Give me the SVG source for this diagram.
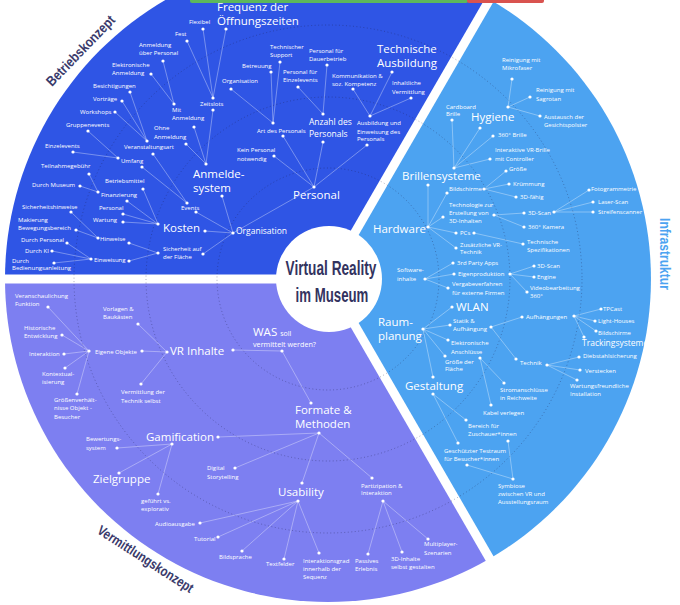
<svg xmlns="http://www.w3.org/2000/svg" width="680" height="605" viewBox="0 0 680 605">
<style>
text{font-family:"Open Sans","Noto Sans","DejaVu Sans",sans-serif;fill:#fff}
.s{font-size:6px}
.m{font-size:8.5px}
.l{font-size:11.5px}
.sec{font-family:"Liberation Sans",Arial,sans-serif;font-weight:bold;font-size:14px;fill:#3a3a6b}
.ctr{font-family:"Liberation Sans",Arial,sans-serif;font-weight:bold;font-size:21px;fill:#33335f}
.d{fill:#fff}
#connectors line{stroke:#fff;stroke-opacity:.58;stroke-width:.6}
.ring{fill:none;stroke:#20204a;stroke-opacity:.45;stroke-width:.8;stroke-dasharray:1 2.5}
</style>
<rect width="680" height="605" fill="#fff"/>
<g id="sectors">
<path d="M328,279 L5,279 A323,323 0 0 1 489.5,-0.7 Z" fill="#2f55e5"/>
<path d="M328,279 L489.5,-0.7 A323,323 0 0 1 489.5,558.7 Z" fill="#4ca3f1"/>
<path d="M328,279 L489.5,558.7 A323,323 0 0 1 5,279 Z" fill="#7d7ff1"/>
<g stroke="#fff" stroke-width="9">
<line x1="328" y1="279" x2="0" y2="279"/>
<line x1="328" y1="279" x2="498" y2="-15"/>
<line x1="328" y1="279" x2="498" y2="573"/>
</g>
<circle class="ring" cx="328" cy="279" r="111"/>
<circle class="ring" cx="328" cy="279" r="182"/>
<circle class="ring" cx="328" cy="279" r="254"/>
</g>
<rect x="190" y="-2" width="278" height="5" rx="2" fill="#5cb85c"/>
<rect x="467" y="-2" width="77" height="5" rx="2" fill="#d9534f"/>
<g id="connectors">
<line x1="213" y1="98" x2="203" y2="29"/><line x1="213" y1="98" x2="187" y2="41"/><line x1="213" y1="98" x2="226" y2="29"/>
<line x1="213" y1="110" x2="206" y2="164"/><line x1="174" y1="104" x2="163" y2="61"/><line x1="174" y1="104" x2="151" y2="74"/>
<line x1="194" y1="127" x2="206" y2="164"/><line x1="186" y1="144" x2="206" y2="164"/>
<line x1="147" y1="141" x2="130" y2="92"/><line x1="147" y1="141" x2="122" y2="101"/><line x1="147" y1="141" x2="115" y2="112"/>
<line x1="118" y1="158" x2="88" y2="131"/><line x1="118" y1="158" x2="73" y2="152"/>
<line x1="153" y1="154" x2="187" y2="203"/><line x1="142" y1="167" x2="187" y2="203"/>
<line x1="196" y1="212" x2="233" y2="233"/><line x1="222" y1="196" x2="233" y2="233"/>
<line x1="98" y1="192" x2="89" y2="174"/><line x1="98" y1="192" x2="80" y2="186"/>
<line x1="127" y1="201" x2="158" y2="224"/><line x1="143" y1="189" x2="158" y2="224"/><line x1="123" y1="214" x2="158" y2="224"/><line x1="123" y1="222" x2="158" y2="224"/>
<line x1="205" y1="231" x2="233" y2="233"/>
<line x1="98" y1="238" x2="71" y2="212"/><line x1="98" y1="238" x2="76" y2="230"/><line x1="129" y1="243" x2="158" y2="253"/>
<line x1="91" y1="259" x2="67" y2="243"/><line x1="91" y1="259" x2="52" y2="251"/><line x1="91" y1="259" x2="54" y2="263"/>
<line x1="129" y1="261" x2="158" y2="253"/><line x1="203" y1="254" x2="233" y2="233"/><line x1="233" y1="233" x2="314" y2="187"/>
<line x1="273" y1="123" x2="231" y2="89"/><line x1="273" y1="123" x2="271" y2="72"/><line x1="273" y1="123" x2="280" y2="62"/>
<line x1="323" y1="114" x2="298" y2="87"/><line x1="323" y1="114" x2="327" y2="65"/>
<line x1="370" y1="116" x2="353" y2="89"/><line x1="370" y1="116" x2="392" y2="72"/><line x1="370" y1="116" x2="411" y2="98"/>
<line x1="314" y1="187" x2="274" y2="156"/><line x1="314" y1="187" x2="283" y2="136"/><line x1="314" y1="187" x2="323" y2="142"/><line x1="314" y1="187" x2="367" y2="145"/>
<line x1="508" y1="107" x2="512" y2="79"/><line x1="508" y1="107" x2="530" y2="97"/><line x1="508" y1="107" x2="540" y2="116"/>
<line x1="480" y1="128" x2="454" y2="168"/><line x1="454" y1="168" x2="452" y2="120"/><line x1="454" y1="168" x2="493" y2="136"/><line x1="454" y1="168" x2="490" y2="159"/>
<line x1="428" y1="185" x2="428" y2="227"/><line x1="447" y1="193" x2="428" y2="227"/><line x1="443" y1="217" x2="428" y2="227"/><line x1="456" y1="233" x2="428" y2="227"/><line x1="456" y1="248" x2="428" y2="227"/>
<line x1="484" y1="189" x2="506" y2="171"/><line x1="484" y1="189" x2="509" y2="184"/><line x1="484" y1="189" x2="516" y2="197"/>
<line x1="494" y1="215" x2="524" y2="213"/><line x1="494" y1="215" x2="524" y2="227"/>
<line x1="554" y1="212" x2="589" y2="190"/><line x1="554" y1="212" x2="593" y2="202"/><line x1="554" y1="212" x2="593" y2="212"/>
<line x1="474" y1="233" x2="523" y2="244"/>
<line x1="425" y1="279" x2="453" y2="263"/><line x1="425" y1="279" x2="454" y2="274"/><line x1="425" y1="279" x2="448" y2="288"/>
<line x1="510" y1="274" x2="534" y2="266"/><line x1="510" y1="274" x2="534" y2="277"/><line x1="510" y1="274" x2="527" y2="292"/>
<line x1="423" y1="329" x2="452" y2="307"/><line x1="423" y1="329" x2="450" y2="325"/><line x1="423" y1="329" x2="448" y2="340"/><line x1="423" y1="329" x2="445" y2="356"/><line x1="423" y1="329" x2="433" y2="377"/>
<line x1="491" y1="327" x2="522" y2="317"/><line x1="491" y1="327" x2="516" y2="359"/>
<line x1="574" y1="316" x2="601" y2="309"/><line x1="574" y1="316" x2="595" y2="321"/><line x1="574" y1="316" x2="596" y2="331"/><line x1="574" y1="316" x2="584" y2="337"/>
<line x1="547" y1="365" x2="579" y2="357"/><line x1="547" y1="365" x2="580" y2="370"/><line x1="547" y1="365" x2="577" y2="380"/>
<line x1="480" y1="358" x2="504" y2="383"/><line x1="480" y1="358" x2="491" y2="405"/>
<line x1="433" y1="394" x2="466" y2="420"/><line x1="433" y1="394" x2="458" y2="443"/>
<line x1="508" y1="441" x2="513" y2="479"/><line x1="467" y1="465" x2="513" y2="479"/>
<line x1="89" y1="351" x2="48" y2="307"/><line x1="89" y1="351" x2="62" y2="335"/><line x1="89" y1="351" x2="64" y2="354"/><line x1="89" y1="351" x2="65" y2="368"/><line x1="89" y1="351" x2="77" y2="394"/>
<line x1="142" y1="351" x2="167" y2="352"/><line x1="167" y1="352" x2="138" y2="324"/><line x1="167" y1="352" x2="141" y2="384"/>
<line x1="233" y1="350" x2="282" y2="351"/><line x1="282" y1="351" x2="311" y2="403"/>
<line x1="319" y1="433" x2="218" y2="437"/><line x1="319" y1="433" x2="235" y2="468"/><line x1="319" y1="433" x2="302" y2="483"/><line x1="319" y1="433" x2="372" y2="478"/>
<line x1="172" y1="444" x2="117" y2="448"/><line x1="172" y1="444" x2="119" y2="473"/><line x1="172" y1="444" x2="158" y2="494"/>
<line x1="298" y1="501" x2="200" y2="523"/><line x1="298" y1="501" x2="218" y2="537"/><line x1="298" y1="501" x2="242" y2="551"/><line x1="298" y1="501" x2="284" y2="559"/><line x1="298" y1="501" x2="319" y2="553"/>
<line x1="383" y1="501" x2="368" y2="554"/><line x1="383" y1="501" x2="402" y2="552"/><line x1="383" y1="501" x2="428" y2="539"/>
</g>
<!-- Betriebskonzept -->
<g id="n-oeffnungszeiten"><circle class="d" cx="226" cy="29" r="1.6"/><text class="l" font-size="10.5" x="217" y="11.3">Frequenz der</text><text class="l" font-size="10.5" x="217" y="24.8">Öffnungszeiten</text></g>
<g id="n-flexibel"><circle class="d" cx="203" cy="29" r="1.6"/><text class="s" x="189" y="24">Flexibel</text></g>
<g id="n-fest"><circle class="d" cx="187" cy="41" r="1.6"/><text class="s" x="175" y="36">Fest</text></g>
<g id="n-zeitslots"><circle class="d" cx="213" cy="98" r="1.6"/><circle class="d" cx="213" cy="110" r="1.6"/><text class="s" x="200" y="106">Zeitslots</text></g>
<g id="n-anm-personal"><circle class="d" cx="163" cy="61" r="1.6"/><text class="s" x="139" y="47">Anmeldung</text><text class="s" x="139" y="55">über Personal</text></g>
<g id="n-elektr-anm"><circle class="d" cx="151" cy="74" r="1.6"/><text class="s" x="112" y="67">Elektronische</text><text class="s" x="112" y="75">Anmeldung</text></g>
<g id="n-mit-anm"><circle class="d" cx="174" cy="104" r="1.6"/><circle class="d" cx="194" cy="127" r="1.6"/><text class="s" x="172" y="112">Mit</text><text class="s" x="172" y="120">Anmeldung</text></g>
<g id="n-ohne-anm"><circle class="d" cx="186" cy="144" r="1.6"/><text class="s" x="154" y="130">Ohne</text><text class="s" x="154" y="139">Anmeldung</text></g>
<g id="n-anmeldesystem"><circle class="d" cx="206" cy="164" r="1.6"/><circle class="d" cx="222" cy="196" r="1.6"/><text class="l" x="193" y="178">Anmelde-</text><text class="l" x="193" y="192">system</text></g>
<g id="n-besichtigungen"><circle class="d" cx="130" cy="92" r="1.6"/><text class="s" x="93" y="88">Besichtigungen</text></g>
<g id="n-vortraege"><circle class="d" cx="122" cy="101" r="1.6"/><text class="s" x="93" y="101">Vorträge</text></g>
<g id="n-workshops"><circle class="d" cx="115" cy="112" r="1.6"/><text class="s" x="80" y="114">Workshops</text></g>
<g id="n-veranstaltungsart"><circle class="d" cx="147" cy="141" r="1.6"/><circle class="d" cx="153" cy="154" r="1.6"/><text class="s" x="124" y="149">Veranstaltungsart</text></g>
<g id="n-gruppenevents"><circle class="d" cx="88" cy="131" r="1.6"/><text class="s" x="66" y="127">Gruppenevents</text></g>
<g id="n-einzelevents"><circle class="d" cx="73" cy="152" r="1.6"/><text class="s" x="45" y="148">Einzelevents</text></g>
<g id="n-umfang"><circle class="d" cx="118" cy="158" r="1.6"/><circle class="d" cx="142" cy="167" r="1.6"/><text class="s" x="121" y="163">Umfang</text></g>
<g id="n-events"><circle class="d" cx="187" cy="203" r="1.6"/><circle class="d" cx="196" cy="212" r="1.6"/><text class="s" x="181" y="210">Events</text></g>
<g id="n-teilnahmegebuehr"><circle class="d" cx="89" cy="174" r="1.6"/><text class="s" x="41" y="168">Teilnahmegebühr</text></g>
<g id="n-durch-museum"><circle class="d" cx="80" cy="186" r="1.6"/><text class="s" x="32" y="187">Durch Museum</text></g>
<g id="n-finanzierung"><circle class="d" cx="98" cy="192" r="1.6"/><circle class="d" cx="127" cy="201" r="1.6"/><text class="s" x="101" y="197">Finanzierung</text></g>
<g id="n-betriebsmittel"><circle class="d" cx="143" cy="189" r="1.6"/><text class="s" x="105" y="183">Betriebsmittel</text></g>
<g id="n-k-personal"><circle class="d" cx="123" cy="214" r="1.6"/><text class="s" x="99" y="210">Personal</text></g>
<g id="n-wartung"><circle class="d" cx="123" cy="222" r="1.6"/><text class="s" x="93" y="222">Wartung</text></g>
<g id="n-kosten"><circle class="d" cx="158" cy="224" r="1.6"/><circle class="d" cx="205" cy="231" r="1.6"/><text class="l" font-size="12" x="163" y="232">Kosten</text></g>
<g id="n-sicherheitshinweise"><circle class="d" cx="71" cy="212" r="1.6"/><text class="s" x="22" y="209">Sicherheitshinweise</text></g>
<g id="n-makierung"><circle class="d" cx="76" cy="230" r="1.6"/><text class="s" x="18" y="222">Makierung</text><text class="s" x="18" y="230">Bewegungsbereich</text></g>
<g id="n-hinweise"><circle class="d" cx="98" cy="238" r="1.6"/><circle class="d" cx="129" cy="243" r="1.6"/><text class="s" x="100" y="241">Hinweise</text></g>
<g id="n-durch-personal"><circle class="d" cx="67" cy="243" r="1.6"/><text class="s" x="21" y="242">Durch Personal</text></g>
<g id="n-durch-ki"><circle class="d" cx="52" cy="251" r="1.6"/><text class="s" x="25" y="253">Durch KI</text></g>
<g id="n-durch-anleitung"><circle class="d" cx="54" cy="263" r="1.6"/><text class="s" x="12" y="263">Durch</text><text class="s" x="12" y="270">Bedienungsanleitung</text></g>
<g id="n-einweisung"><circle class="d" cx="91" cy="259" r="1.6"/><circle class="d" cx="129" cy="261" r="1.6"/><text class="s" x="94" y="262">Einweisung</text></g>
<g id="n-sicherheit"><circle class="d" cx="158" cy="253" r="1.6"/><circle class="d" cx="203" cy="254" r="1.6"/><text class="s" x="163" y="251">Sicherheit auf</text><text class="s" x="163" y="259">der Fläche</text></g>
<g id="n-organisation"><circle class="d" cx="233" cy="233" r="1.6"/><text class="m" font-size="8" x="236" y="234">Organisation</text></g>
<g id="n-p-organisation"><circle class="d" cx="231" cy="89" r="1.6"/><text class="s" x="222" y="83">Organisation</text></g>
<g id="n-betreuung"><circle class="d" cx="271" cy="72" r="1.6"/><text class="s" x="242" y="68">Betreuung</text></g>
<g id="n-tech-support"><circle class="d" cx="280" cy="62" r="1.6"/><text class="s" x="270" y="49">Technischer</text><text class="s" x="270" y="57">Support</text></g>
<g id="n-art-personal"><circle class="d" cx="273" cy="123" r="1.6"/><circle class="d" cx="283" cy="136" r="1.6"/><text class="s" x="257" y="133">Art des Personals</text></g>
<g id="n-p-dauer"><circle class="d" cx="327" cy="65" r="1.6"/><text class="s" x="309" y="53">Personal für</text><text class="s" x="309" y="61">Dauerbetrieb</text></g>
<g id="n-p-einzel"><circle class="d" cx="298" cy="87" r="1.6"/><text class="s" x="283" y="74">Personal für</text><text class="s" x="283" y="82">Einzelevents</text></g>
<g id="n-anzahl"><circle class="d" cx="323" cy="114" r="1.6"/><circle class="d" cx="323" cy="142" r="1.6"/><text class="m" x="309" y="125">Anzahl des</text><text class="m" x="309" y="137">Personals</text></g>
<g id="n-kommunikation"><circle class="d" cx="353" cy="89" r="1.6"/><text class="s" x="332" y="78">Kommunikation &amp;</text><text class="s" x="332" y="86">soz. Kompetenz</text></g>
<g id="n-tech-ausbildung"><circle class="d" cx="392" cy="72" r="1.6"/><text class="l" x="377" y="53">Technische</text><text class="l" x="377" y="67">Ausbildung</text></g>
<g id="n-inhaltliche"><circle class="d" cx="411" cy="98" r="1.6"/><text class="s" x="392" y="85">Inhaltliche</text><text class="s" x="392" y="94">Vermittlung</text></g>
<g id="n-ausbildung"><circle class="d" cx="370" cy="116" r="1.6"/><circle class="d" cx="367" cy="145" r="1.6"/><text class="s" x="357" y="125">Ausbildung und</text><text class="s" x="357" y="134">Einweisung des</text><text class="s" x="357" y="141">Personals</text></g>
<g id="n-kein-personal"><circle class="d" cx="274" cy="156" r="1.6"/><text class="s" x="237" y="152">Kein Personal</text><text class="s" x="237" y="161">notwendig</text></g>
<g id="n-personal"><circle class="d" cx="314" cy="187" r="1.6"/><text class="l" font-size="12" x="293" y="199">Personal</text></g>
<!-- Infrastruktur -->
<g id="n-mikrofaser"><circle class="d" cx="512" cy="79" r="1.6"/><text class="s" x="502" y="62">Reinigung mit</text><text class="s" x="502" y="70">Mikrofaser</text></g>
<g id="n-sagrotan"><circle class="d" cx="530" cy="97" r="1.6"/><text class="s" x="536" y="92">Reinigung mit</text><text class="s" x="536" y="101">Sagrotan</text></g>
<g id="n-gesichtspolster"><circle class="d" cx="540" cy="116" r="1.6"/><text class="s" x="544" y="119">Austausch der</text><text class="s" x="544" y="127">Gesichtspolster</text></g>
<g id="n-hygiene"><circle class="d" cx="508" cy="107" r="1.6"/><circle class="d" cx="480" cy="128" r="1.6"/><text class="l" x="471" y="121">Hygiene</text></g>
<g id="n-cardboard"><circle class="d" cx="452" cy="120" r="1.6"/><text class="s" x="446" y="109">Cardboard</text><text class="s" x="446" y="116">Brille</text></g>
<g id="n-360-brille"><circle class="d" cx="493" cy="136" r="1.6"/><text class="s" x="498" y="137">360° Brille</text></g>
<g id="n-interaktive"><circle class="d" cx="490" cy="159" r="1.6"/><text class="s" x="495" y="152">Interaktive VR-Brille</text><text class="s" x="495" y="161">mit Controller</text></g>
<g id="n-brillensysteme"><circle class="d" cx="454" cy="168" r="1.6"/><circle class="d" cx="428" cy="185" r="1.6"/><text class="l" x="402" y="180">Brillensysteme</text></g>
<g id="n-groesse"><circle class="d" cx="506" cy="171" r="1.6"/><text class="s" x="509" y="171">Größe</text></g>
<g id="n-kruemmung"><circle class="d" cx="509" cy="184" r="1.6"/><text class="s" x="513" y="186">Krümmung</text></g>
<g id="n-3d-faehig"><circle class="d" cx="516" cy="197" r="1.6"/><text class="s" x="520" y="199">3D-fähig</text></g>
<g id="n-bildschirme"><circle class="d" cx="447" cy="193" r="1.6"/><circle class="d" cx="484" cy="189" r="1.6"/><text class="s" x="449" y="191">Bildschirme</text></g>
<g id="n-technologie"><circle class="d" cx="443" cy="217" r="1.6"/><circle class="d" cx="494" cy="215" r="1.6"/><text class="s" x="449" y="207">Technologie zur</text><text class="s" x="449" y="215">Erstellung von</text><text class="s" x="449" y="223">3D-Inhalten</text></g>
<g id="n-hardware"><circle class="d" cx="428" cy="227" r="1.6"/><text class="l" x="373" y="233">Hardware</text></g>
<g id="n-3d-scan"><circle class="d" cx="524" cy="213" r="1.6"/><circle class="d" cx="554" cy="212" r="1.6"/><text class="s" x="528" y="215">3D-Scan</text></g>
<g id="n-360-kamera"><circle class="d" cx="524" cy="227" r="1.6"/><text class="s" x="528" y="229">360° Kamera</text></g>
<g id="n-fotogrammetrie"><circle class="d" cx="589" cy="190" r="1.6"/><text class="s" x="591" y="191">Fotogrammetrie</text></g>
<g id="n-laser-scan"><circle class="d" cx="593" cy="202" r="1.6"/><text class="s" x="598" y="204">Laser-Scan</text></g>
<g id="n-streifenscanner"><circle class="d" cx="593" cy="212" r="1.6"/><text class="s" x="598" y="214">Streifenscanner</text></g>
<g id="n-pcs"><circle class="d" cx="456" cy="233" r="1.6"/><circle class="d" cx="474" cy="233" r="1.6"/><text class="s" x="460" y="235">PCs</text></g>
<g id="n-tech-spez"><circle class="d" cx="523" cy="244" r="1.6"/><text class="s" x="527" y="244">Technische</text><text class="s" x="527" y="252">Spezifikationen</text></g>
<g id="n-zusaetzliche"><circle class="d" cx="456" cy="248" r="1.6"/><text class="s" x="460" y="247">Zusätzliche VR-</text><text class="s" x="460" y="254">Technik</text></g>
<g id="n-software"><circle class="d" cx="425" cy="279" r="1.6"/><text class="s" x="397" y="272">Software-</text><text class="s" x="397" y="281">inhalte</text></g>
<g id="n-3rd-party"><circle class="d" cx="453" cy="263" r="1.6"/><text class="s" x="457" y="265">3rd Party Apps</text></g>
<g id="n-eigenproduktion"><circle class="d" cx="454" cy="274" r="1.6"/><circle class="d" cx="510" cy="274" r="1.6"/><text class="s" x="458" y="276">Eigenproduktion</text></g>
<g id="n-e-3d-scan"><circle class="d" cx="534" cy="266" r="1.6"/><text class="s" x="537" y="268">3D-Scan</text></g>
<g id="n-engine"><circle class="d" cx="534" cy="277" r="1.6"/><text class="s" x="537" y="279">Engine</text></g>
<g id="n-video"><circle class="d" cx="527" cy="292" r="1.6"/><text class="s" x="530" y="290">Videobearbeitung</text><text class="s" x="530" y="298">360°</text></g>
<g id="n-vergabe"><circle class="d" cx="448" cy="288" r="1.6"/><text class="s" x="452" y="286">Vergabeverfahren</text><text class="s" x="452" y="295">für externe Firmen</text></g>
<g id="n-wlan"><circle class="d" cx="452" cy="307" r="1.6"/><text class="l" x="456" y="311">WLAN</text></g>
<g id="n-raumplanung"><circle class="d" cx="423" cy="329" r="1.6"/><text class="l" x="378" y="326">Raum-</text><text class="l" x="378" y="340">planung</text></g>
<g id="n-statik"><circle class="d" cx="450" cy="325" r="1.6"/><circle class="d" cx="491" cy="327" r="1.6"/><text class="s" x="453" y="323">Statik &amp;</text><text class="s" x="453" y="331">Aufhängung</text></g>
<g id="n-aufhaengungen"><circle class="d" cx="522" cy="317" r="1.6"/><circle class="d" cx="574" cy="316" r="1.6"/><text class="s" x="526" y="319">Aufhängungen</text></g>
<g id="n-tpcast"><circle class="d" cx="601" cy="309" r="1.6"/><text class="s" x="603" y="311">TPCast</text></g>
<g id="n-lighthouses"><circle class="d" cx="595" cy="321" r="1.6"/><text class="s" x="598" y="323">Light-Houses</text></g>
<g id="n-t-bildschirme"><circle class="d" cx="596" cy="331" r="1.6"/><text class="s" x="598" y="335">Bildschirme</text></g>
<g id="n-tracking"><circle class="d" cx="584" cy="337" r="1.6"/><text class="m" x="582" y="346">Trackingsysteme</text></g>
<g id="n-elektronische"><circle class="d" cx="448" cy="340" r="1.6"/><circle class="d" cx="480" cy="358" r="1.6"/><text class="s" x="451" y="345">Elektronische</text><text class="s" x="451" y="354">Anschlüsse</text></g>
<g id="n-groesse-flaeche"><circle class="d" cx="445" cy="356" r="1.6"/><text class="s" x="445" y="364">Größe der</text><text class="s" x="445" y="371">Fläche</text></g>
<g id="n-technik"><circle class="d" cx="516" cy="359" r="1.6"/><circle class="d" cx="547" cy="365" r="1.6"/><text class="s" x="520" y="365">Technik</text></g>
<g id="n-diebstahl"><circle class="d" cx="579" cy="357" r="1.6"/><text class="s" x="583" y="358">Diebstahlsicherung</text></g>
<g id="n-verstecken"><circle class="d" cx="580" cy="370" r="1.6"/><text class="s" x="585" y="373">Verstecken</text></g>
<g id="n-wartungsfreundlich"><circle class="d" cx="577" cy="380" r="1.6"/><text class="s" x="570" y="388">Wartungsfreundliche</text><text class="s" x="570" y="396">Installation</text></g>
<g id="n-strom"><circle class="d" cx="504" cy="383" r="1.6"/><text class="s" x="500" y="392">Stromanschlüsse</text><text class="s" x="500" y="400">in Reichweite</text></g>
<g id="n-kabel"><circle class="d" cx="491" cy="405" r="1.6"/><text class="s" x="483" y="415">Kabel verlegen</text></g>
<g id="n-gestaltung"><circle class="d" cx="433" cy="377" r="1.6"/><circle class="d" cx="433" cy="394" r="1.6"/><text class="l" x="405" y="390">Gestaltung</text></g>
<g id="n-bereich"><circle class="d" cx="466" cy="420" r="1.6"/><circle class="d" cx="508" cy="441" r="1.6"/><text class="s" x="468" y="428">Bereich für</text><text class="s" x="468" y="436">Zuschauer*innen</text></g>
<g id="n-testraum"><circle class="d" cx="458" cy="443" r="1.6"/><circle class="d" cx="467" cy="465" r="1.6"/><text class="s" x="444" y="453">Geschützter Testraum</text><text class="s" x="444" y="461">für Besucher*innen</text></g>
<g id="n-symbiose"><circle class="d" cx="513" cy="479" r="1.6"/><text class="s" x="498" y="488">Symbiose</text><text class="s" x="498" y="496">zwischen VR und</text><text class="s" x="498" y="504">Ausstellungsraum</text></g>
<!-- Vermittlungskonzept -->
<g id="n-veranschaulichung"><circle class="d" cx="48" cy="307" r="1.6"/><text class="s" x="15" y="298">Veranschaulichung</text><text class="s" x="15" y="306">Funktion</text></g>
<g id="n-historische"><circle class="d" cx="62" cy="335" r="1.6"/><text class="s" x="24" y="330">Historische</text><text class="s" x="24" y="338">Entwicklung</text></g>
<g id="n-interaktion"><circle class="d" cx="64" cy="354" r="1.6"/><text class="s" x="29" y="356">Interaktion</text></g>
<g id="n-kontext"><circle class="d" cx="65" cy="368" r="1.6"/><text class="s" x="42" y="376">Kontextual-</text><text class="s" x="42" y="384">isierung</text></g>
<g id="n-groessenverh"><circle class="d" cx="77" cy="394" r="1.6"/><text class="s" x="54" y="402">Größenverhält-</text><text class="s" x="54" y="410">nisse Objekt -</text><text class="s" x="54" y="419">Besucher</text></g>
<g id="n-eigene"><circle class="d" cx="89" cy="351" r="1.6"/><circle class="d" cx="142" cy="351" r="1.6"/><text class="s" x="95" y="354">Eigene Objekte</text></g>
<g id="n-vorlagen"><circle class="d" cx="138" cy="324" r="1.6"/><text class="s" x="103" y="311">Vorlagen &amp;</text><text class="s" x="103" y="319">Baukästen</text></g>
<g id="n-vermittlung-technik"><circle class="d" cx="141" cy="384" r="1.6"/><text class="s" x="121" y="394">Vermittlung der</text><text class="s" x="121" y="403">Technik selbst</text></g>
<g id="n-vr-inhalte"><circle class="d" cx="167" cy="352" r="1.6"/><circle class="d" cx="233" cy="350" r="1.6"/><text class="l" x="170" y="355">VR Inhalte</text></g>
<g id="n-was"><circle class="d" cx="282" cy="351" r="1.6"/><text class="l" font-size="11" x="253" y="336">WAS <tspan font-size="7">soll</tspan></text><text font-size="7.2" x="253" y="347">vermittelt werden?</text></g>
<g id="n-formate"><circle class="d" cx="311" cy="403" r="1.6"/><circle class="d" cx="319" cy="433" r="1.6"/><text class="l" font-size="11.2" x="295" y="414">Formate &amp;</text><text class="l" font-size="11.2" x="295" y="428">Methoden</text></g>
<g id="n-gamification"><circle class="d" cx="218" cy="437" r="1.6"/><circle class="d" cx="172" cy="444" r="1.6"/><text class="l" x="146" y="441">Gamification</text></g>
<g id="n-bewertung"><circle class="d" cx="117" cy="448" r="1.6"/><text class="s" x="86" y="441">Bewertungs-</text><text class="s" x="86" y="450">system</text></g>
<g id="n-zielgruppe"><circle class="d" cx="119" cy="473" r="1.6"/><text class="l" x="93" y="483">Zielgruppe</text></g>
<g id="n-gefuehrt"><circle class="d" cx="158" cy="494" r="1.6"/><text class="s" x="141" y="503">geführt vs.</text><text class="s" x="141" y="511">explorativ</text></g>
<g id="n-storytelling"><circle class="d" cx="235" cy="468" r="1.6"/><text class="s" x="207" y="470">Digital</text><text class="s" x="207" y="479">Storytelling</text></g>
<g id="n-usability"><circle class="d" cx="302" cy="483" r="1.6"/><circle class="d" cx="298" cy="501" r="1.6"/><text class="l" x="278" y="496">Usability</text></g>
<g id="n-partizipation"><circle class="d" cx="372" cy="478" r="1.6"/><circle class="d" cx="383" cy="501" r="1.6"/><text class="s" x="361" y="488">Partizipation &amp;</text><text class="s" x="361" y="495">Interaktion</text></g>
<g id="n-audio"><circle class="d" cx="200" cy="523" r="1.6"/><text class="s" x="155" y="526">Audioausgabe</text></g>
<g id="n-tutorial"><circle class="d" cx="218" cy="537" r="1.6"/><text class="s" x="194" y="541">Tutorial</text></g>
<g id="n-bildsprache"><circle class="d" cx="242" cy="551" r="1.6"/><text class="s" x="219" y="559">Bildsprache</text></g>
<g id="n-textfelder"><circle class="d" cx="284" cy="559" r="1.6"/><text class="s" x="266" y="566">Textfelder</text></g>
<g id="n-interaktionsgrad"><circle class="d" cx="319" cy="553" r="1.6"/><text class="s" x="303" y="563">Interaktionsgrad</text><text class="s" x="303" y="571">innerhalb der</text><text class="s" x="303" y="579">Sequenz</text></g>
<g id="n-passives"><circle class="d" cx="368" cy="554" r="1.6"/><text class="s" x="355" y="563">Passives</text><text class="s" x="355" y="571">Erlebnis</text></g>
<g id="n-3d-inhalte"><circle class="d" cx="402" cy="552" r="1.6"/><text class="s" x="391" y="561">3D-Inhalte</text><text class="s" x="391" y="569">selbst gestalten</text></g>
<g id="n-multiplayer"><circle class="d" cx="428" cy="539" r="1.6"/><text class="s" x="424" y="546">Multiplayer-</text><text class="s" x="424" y="555">Szenarien</text></g>
<!-- Center and section titles -->
<g id="n-center"><circle cx="329" cy="279" r="53" fill="#fff"/>
<text class="ctr" x="0" y="0" text-anchor="middle" transform="translate(331,275) scale(0.65,1)">Virtual Reality</text>
<text class="ctr" x="0" y="0" text-anchor="middle" transform="translate(332,302) scale(0.63,1)">im Museum</text></g>
<g id="sec-betrieb"><text class="sec" x="0" y="0" text-anchor="middle" transform="translate(84,54) rotate(-46) scale(0.845,1)">Betriebskonzept</text></g>
<g id="sec-infra"><text class="sec" x="0" y="0" text-anchor="middle" transform="translate(660,254) rotate(90) scale(0.865,1)" style="fill:#4ca3f1">Infrastruktur</text></g>
<g id="sec-vermittlung"><text class="sec" x="0" y="0" text-anchor="middle" transform="translate(143,563) rotate(33) scale(0.81,1)">Vermittlungskonzept</text></g>
</svg>
